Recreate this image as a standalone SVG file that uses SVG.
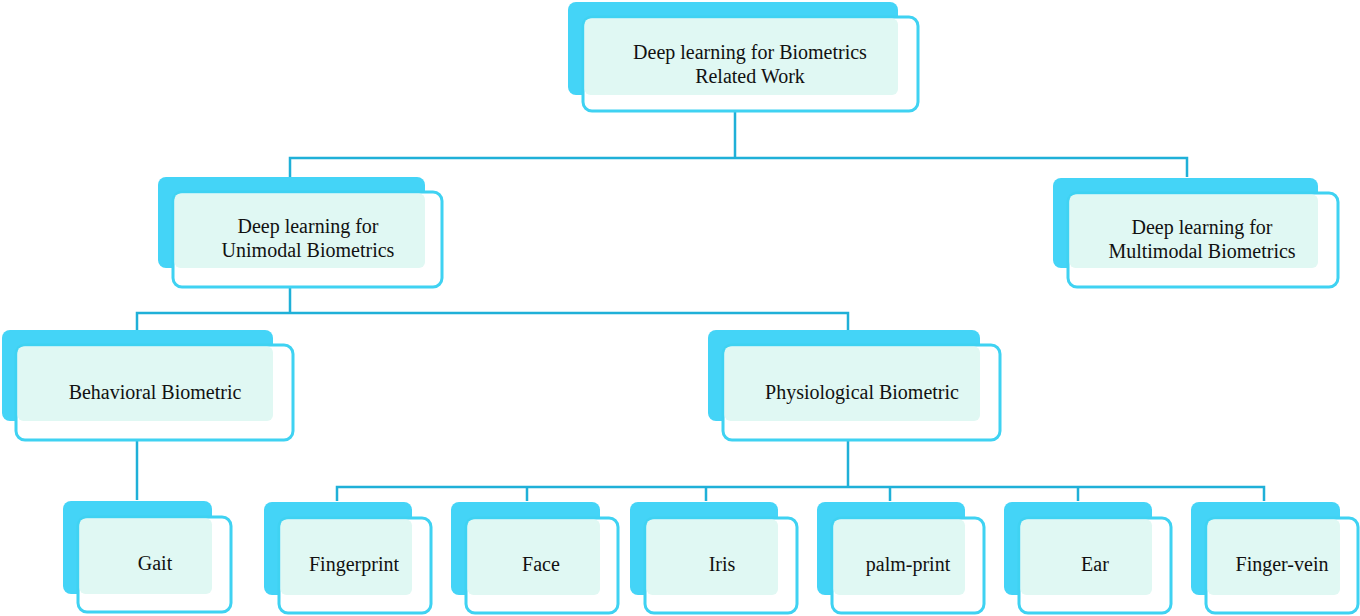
<svg xmlns="http://www.w3.org/2000/svg" width="1360" height="616" viewBox="0 0 1360 616">
<style>
.b{fill:#44d4f7}
.f{fill:#fff;stroke:#3fd2f2;stroke-width:3}
.m{fill:#e0f8f3}
.t{font-family:"Liberation Serif",serif;font-size:20px;fill:#111;text-anchor:middle}
.c{fill:none;stroke:#1fb0d8;stroke-width:2.5}
</style>
<rect width="1360" height="616" fill="#fff"/>
<g id="connectors">
<path class="c" d="M735 111V158M290 177V158H1187V177"/>
<path class="c" d="M290 287V313M137 330V313H848V330"/>
<path class="c" d="M137 440V500"/>
<path class="c" d="M848 440V487M337 501V487H1264V501M527 487V501M706 487V501M890 487V501M1078 487V501"/>
</g>
<g id="root"><rect class="b" x="568" y="2" width="330" height="93" rx="8"/><rect class="f" x="583" y="17" width="335" height="94" rx="9"/><rect class="m" x="584.5" y="18.5" width="313.5" height="76.5" rx="6"/><text class="t" x="750" y="59">Deep learning for Biometrics</text><text class="t" x="750" y="83">Related Work</text></g>
<g id="unimodal"><rect class="b" x="158" y="177" width="267" height="91" rx="8"/><rect class="f" x="173" y="192" width="269" height="95" rx="9"/><rect class="m" x="174.5" y="193.5" width="250.5" height="74.5" rx="6"/><text class="t" x="308" y="233">Deep learning  for</text><text class="t" x="308" y="257">Unimodal Biometrics</text></g>
<g id="multimodal"><rect class="b" x="1053" y="178" width="265" height="90" rx="8"/><rect class="f" x="1068" y="193" width="270" height="94" rx="9"/><rect class="m" x="1069.5" y="194.5" width="248.5" height="73.5" rx="6"/><text class="t" x="1202" y="234">Deep learning for</text><text class="t" x="1202" y="258">Multimodal Biometrics</text></g>
<g id="behavioral"><rect class="b" x="2" y="330" width="271" height="91" rx="8"/><rect class="f" x="16" y="345" width="277" height="95" rx="9"/><rect class="m" x="17.5" y="346.5" width="255.5" height="74.5" rx="6"/><text class="t" x="155" y="399">Behavioral Biometric</text></g>
<g id="physiological"><rect class="b" x="708" y="330" width="272" height="91" rx="8"/><rect class="f" x="723" y="345" width="277" height="95" rx="9"/><rect class="m" x="724.5" y="346.5" width="255.5" height="74.5" rx="6"/><text class="t" x="862" y="399">Physiological Biometric</text></g>
<g id="gait"><rect class="b" x="63" y="501" width="149" height="93" rx="8"/><rect class="f" x="78" y="517" width="153" height="95" rx="9"/><rect class="m" x="79.5" y="518.5" width="132.5" height="75.5" rx="6"/><text class="t" x="155" y="570">Gait</text></g>
<g id="fingerprint"><rect class="b" x="264" y="502" width="148" height="93" rx="8"/><rect class="f" x="279" y="518" width="152" height="95" rx="9"/><rect class="m" x="280.5" y="519.5" width="131.5" height="75.5" rx="6"/><text class="t" x="354" y="571">Fingerprint</text></g>
<g id="face"><rect class="b" x="451" y="502" width="149" height="93" rx="8"/><rect class="f" x="466" y="518" width="152" height="95" rx="9"/><rect class="m" x="467.5" y="519.5" width="132.5" height="75.5" rx="6"/><text class="t" x="541" y="571">Face</text></g>
<g id="iris"><rect class="b" x="630" y="502" width="148" height="93" rx="8"/><rect class="f" x="645" y="518" width="152" height="95" rx="9"/><rect class="m" x="646.5" y="519.5" width="131.5" height="75.5" rx="6"/><text class="t" x="722" y="571">Iris</text></g>
<g id="palm"><rect class="b" x="817" y="502" width="148" height="93" rx="8"/><rect class="f" x="832" y="518" width="152" height="95" rx="9"/><rect class="m" x="833.5" y="519.5" width="131.5" height="75.5" rx="6"/><text class="t" x="908" y="571">palm-print</text></g>
<g id="ear"><rect class="b" x="1004" y="502" width="148" height="93" rx="8"/><rect class="f" x="1019" y="518" width="152" height="95" rx="9"/><rect class="m" x="1020.5" y="519.5" width="131.5" height="75.5" rx="6"/><text class="t" x="1095" y="571">Ear</text></g>
<g id="fingervein"><rect class="b" x="1191" y="502" width="149" height="93" rx="8"/><rect class="f" x="1206" y="518" width="152" height="95" rx="9"/><rect class="m" x="1207.5" y="519.5" width="132.5" height="75.5" rx="6"/><text class="t" x="1282" y="571">Finger-vein</text></g>
</svg>
